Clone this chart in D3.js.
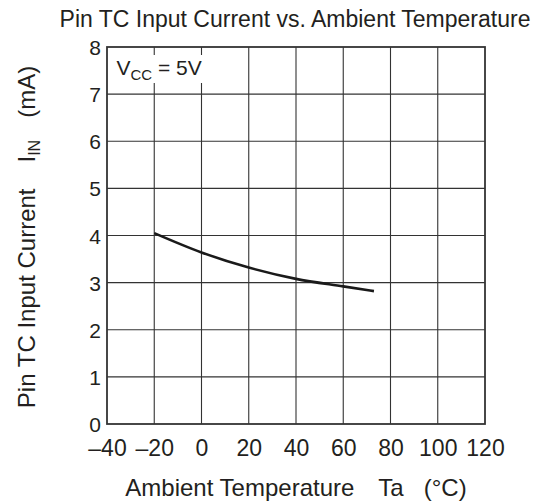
<!DOCTYPE html>
<html>
<head>
<meta charset="utf-8">
<script src="https://cdn.jsdelivr.net/npm/d3@7"></script>
<style>
  html, body { margin: 0; padding: 0; background: #fff; }
  svg { display: block; }
  text { font-family: "Liberation Sans", Arial, Helvetica, sans-serif; fill: #231f20; }
</style>
</head>
<body>
<svg id="chart" width="552" height="504"></svg>
<script>
// ---- data ----
const temperature = [-20, 0, 20, 40, 60, 73];
const inputCurrent = [4.05, 3.64, 3.32, 3.08, 2.92, 2.82];
const xTicks = [-40, -20, 0, 20, 40, 60, 80, 100, 120];
const yTicks = [0, 1, 2, 3, 4, 5, 6, 7, 8];
const titleText = "Pin TC Input Current vs. Ambient Temperature";

(function () {
const svg = d3.select("#chart");
const pLeft = 107, pRight = 485, pTop = 47, pBottom = 424;
const ink = "#231f20";

const x = d3.scaleLinear().domain([-40, 120]).range([pLeft, pRight]);
const y = d3.scaleLinear().domain([0, 8]).range([pBottom, pTop]);

// grid
const grid = svg.append("g");
grid.selectAll("line.v").data(xTicks.slice(1, -1)).join("line")
  .attr("x1", d => x(d)).attr("x2", d => x(d))
  .attr("y1", pTop).attr("y2", pBottom)
  .attr("stroke", "#333").attr("stroke-width", 1.1);
grid.selectAll("line.h").data(yTicks.slice(1, -1)).join("line")
  .attr("x1", pLeft).attr("x2", pRight)
  .attr("y1", d => y(d)).attr("y2", d => y(d))
  .attr("stroke", "#333").attr("stroke-width", 1.1);

// label background + Vcc label
svg.append("rect").attr("x", x(-37)).attr("y", 55).attr("width", 96).attr("height", 28).attr("fill", "#fff");
const vcc = svg.append("text").attr("x", x(-36)).attr("y", 75).attr("font-size", 21);
vcc.append("tspan").text("V");
vcc.append("tspan").attr("font-size", 15).attr("dy", 5).text("CC");
vcc.append("tspan").attr("dy", -5).text(" = 5V");

// frame
svg.append("rect").attr("x", pLeft).attr("y", pTop)
  .attr("width", pRight - pLeft).attr("height", pBottom - pTop)
  .attr("fill", "none").attr("stroke", "#333").attr("stroke-width", 1.8);

// axes tick labels
const xAxis = d3.axisBottom(x).tickValues(xTicks).tickSize(0).tickPadding(16)
  .tickFormat(d => d < 0 ? "\u2013" + Math.abs(d) : String(d));
const gx = svg.append("g").attr("transform", `translate(0,${pBottom})`).call(xAxis);
gx.select(".domain").remove();
gx.selectAll("text").attr("font-size", 23).attr("fill", ink)
  .attr("font-family", '"Liberation Sans", Arial, sans-serif');

const yAxis = d3.axisLeft(y).tickValues(yTicks).tickSize(0).tickPadding(6);
const gy = svg.append("g").attr("transform", `translate(${pLeft},0)`).call(yAxis);
gy.select(".domain").remove();
gy.selectAll("text").attr("font-size", 21).attr("fill", ink).attr("dy", "0.36em")
  .attr("font-family", '"Liberation Sans", Arial, sans-serif');

// curve
const line = d3.line().x(d => x(d[0])).y(d => y(d[1])).curve(d3.curveMonotoneX);
svg.append("path").datum(temperature.map((t, i) => [t, inputCurrent[i]]))
  .attr("d", line).attr("fill", "none").attr("stroke", "#1a1a1a")
  .attr("stroke-width", 2.6).attr("stroke-linecap", "butt");

// title
svg.append("text").attr("x", 295).attr("y", 27).attr("text-anchor", "middle")
  .attr("font-size", 23).text(titleText);

// x label
const xl = svg.append("text").attr("x", 296).attr("y", 496).attr("text-anchor", "middle").attr("font-size", 24);
xl.append("tspan").text("Ambient Temperature");
xl.append("tspan").attr("dx", 24).text("Ta");
xl.append("tspan").attr("dx", 20).text("(\u00B0C)");

// y label
const yl = svg.append("text").attr("transform", "translate(35,237) rotate(-90)")
  .attr("text-anchor", "middle").attr("font-size", 24);
yl.append("tspan").text("Pin TC Input Current");
yl.append("tspan").attr("dx", 26).text("I");
yl.append("tspan").attr("font-size", 16).attr("dy", 5).text("IN");
yl.append("tspan").attr("dy", -5).attr("dx", 22).text("(mA)");
})();
</script>
</body>
</html>
